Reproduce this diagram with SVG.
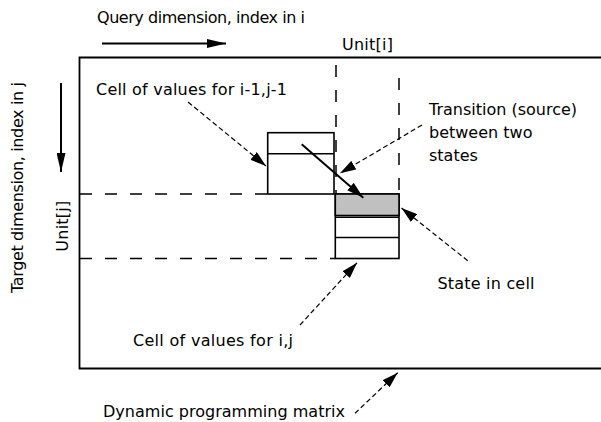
<svg xmlns="http://www.w3.org/2000/svg" width="601" height="422" viewBox="0 0 601 422">
  <style>
    text { font-family: "DejaVu Sans", "Noto Sans", sans-serif; font-size: 16px; fill: #000; }
    .frame { fill: none; stroke: #000; stroke-width: 1.8; }
    .box { fill: #fff; stroke: #000; stroke-width: 1.6; }
    .sep { fill: none; stroke: #000; stroke-width: 1.6; }
    .shade { fill: #c0c0c0; stroke: #000; stroke-width: 1.6; }
    .guide { fill: none; stroke: #000; stroke-width: 1.5; stroke-dasharray: 12 13; }
    .axis { fill: none; stroke: #000; stroke-width: 2; marker-end: url(#axisHead); }
    .pointer { fill: none; stroke: #000; stroke-width: 1.2; stroke-dasharray: 5 3; marker-end: url(#pointerHead); }
    .move { fill: none; stroke: #000; stroke-width: 2; marker-end: url(#moveHead); }
  </style>
  <defs>
    <marker id="axisHead" markerUnits="userSpaceOnUse" viewBox="0 0 19 9" markerWidth="19" markerHeight="9" refX="19" refY="4.5" orient="auto">
      <path d="M0,0 L19,4.5 L0,9 Z" fill="#000"/>
    </marker>
    <marker id="pointerHead" markerUnits="userSpaceOnUse" viewBox="0 0 16 10" markerWidth="16" markerHeight="10" refX="16" refY="5" orient="auto">
      <path d="M0,0 L16,5 L0,10 Z" fill="#000"/>
    </marker>
    <marker id="moveHead" markerUnits="userSpaceOnUse" viewBox="0 0 17 10" markerWidth="17" markerHeight="10" refX="17" refY="5" orient="auto">
      <path d="M0,0 L17,5 L0,10 Z" fill="#000"/>
    </marker>
  </defs>

  <rect width="601" height="422" fill="#fff"/>

  <!-- axis captions and direction arrows -->
  <g id="query-axis">
    <text x="97" y="23" textLength="208">Query dimension, index in i</text>
    <line class="axis" x1="102" y1="43.5" x2="226" y2="43.5"/>
  </g>
  <g id="target-axis">
    <text transform="translate(22.5,293) rotate(-90)" textLength="211">Target dimension, index in j</text>
    <line class="axis" x1="61" y1="83" x2="61" y2="172"/>
  </g>

  <!-- dynamic programming matrix (open to the right) -->
  <g id="matrix">
    <path class="frame" d="M605,57.5 H79.5 V368.5 H605"/>
  </g>

  <!-- unit guides for column i and row j -->
  <g id="unit-guides">
    <line class="guide" x1="336" y1="65" x2="336" y2="194"/>
    <line class="guide" x1="399" y1="78" x2="399" y2="194"/>
    <line class="guide" x1="80" y1="194" x2="267.5" y2="194"/>
    <line class="guide" x1="80" y1="258.5" x2="335" y2="258.5"/>
    <text x="342" y="49.5" textLength="51">Unit[i]</text>
    <text transform="translate(67.5,251.7) rotate(-90)" textLength="51">Unit[j]</text>
  </g>

  <!-- cell (i-1, j-1) -->
  <g id="cell-prev">
    <rect class="box" x="267.7" y="132.7" width="66.3" height="61.3"/>
    <line class="sep" x1="267.7" y1="153.7" x2="334" y2="153.7"/>
  </g>

  <!-- cell (i, j) with its states -->
  <g id="cell-cur">
    <rect class="box" x="335.3" y="194" width="63.7" height="64.5"/>
    <rect class="shade" x="335.3" y="194" width="63.7" height="21.5"/>
    <line class="sep" x1="335.3" y1="217.3" x2="399" y2="217.3"/>
    <line class="sep" x1="335.3" y1="237.5" x2="399" y2="237.5"/>
  </g>

  <!-- annotations -->
  <g id="labels">
    <text x="96" y="95" textLength="191">Cell of values for i-1,j-1</text>
    <text x="429" y="114.5">Transition (source)</text>
    <text x="429" y="137.5">between two</text>
    <text x="429" y="160.5">states</text>
    <text x="437.5" y="289.3" textLength="97">State in cell</text>
    <text x="133" y="345.5" textLength="160">Cell of values for i,j</text>
    <text x="103" y="416.5" textLength="242">Dynamic programming matrix</text>
  </g>

  <!-- connectors -->
  <g id="connectors">
    <line class="move" x1="301.7" y1="144.3" x2="363.3" y2="197.7"/>
    <line class="pointer" x1="188" y1="102" x2="266" y2="166"/>
    <line class="pointer" x1="422" y1="125" x2="340" y2="173.3"/>
    <line class="pointer" x1="467.7" y1="260.7" x2="401.5" y2="208"/>
    <line class="pointer" x1="300" y1="325" x2="357" y2="262.8"/>
    <line class="pointer" x1="355" y1="413.3" x2="397.7" y2="372.7"/>
  </g>
</svg>
